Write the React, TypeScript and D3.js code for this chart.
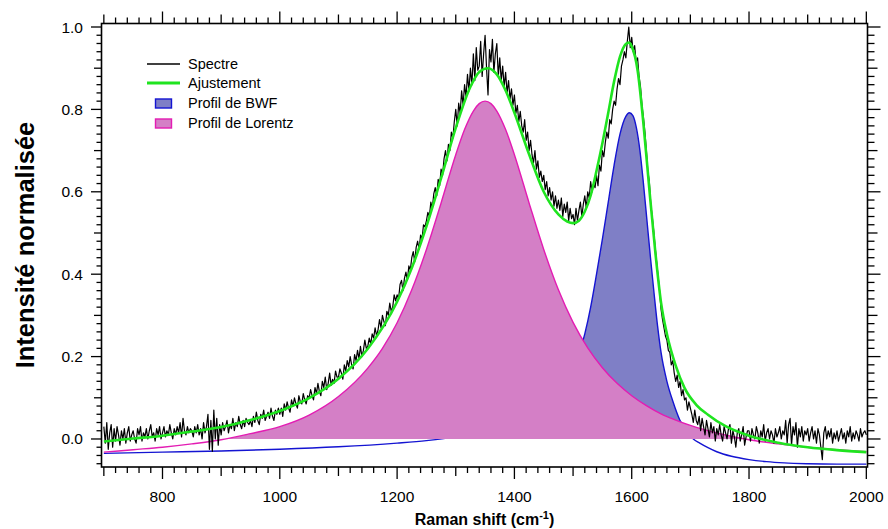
import React from "react";
import * as d3 from "d3";

const W = 888;
const H = 529;

// Raman spectrum (normalised intensity), sampled every 2.5 cm-1 from 700 to 2000
const spectrumStart = 700;
const spectrumStep = 2.5;
const spectrumValues: number[] = [
  0.03, -0.01, 0.04, -0.025, 0.015, 0.035, -0.02, 0.025, -0.005, 0.03, 0.01, -0.015, 0.02, 0.0, 0.025, -0.01, 0.015, 0.03, -0.005, 0.01,
  0.02, 0.0, -0.01, 0.025, 0.01, 0.03, -0.005, 0.015, 0.005, 0.025, 0.0, 0.02, 0.035, 0.005, 0.015, -0.005, 0.025, 0.01, 0.03, 0.0,
  0.015, 0.03, 0.005, 0.02, 0.01, 0.035, 0.015, 0.0, 0.025, 0.01, 0.03, 0.015, 0.04, 0.005, 0.05, 0.02, 0.01, 0.03, 0.015, 0.025,
  0.02, 0.005, 0.03, 0.015, 0.035, 0.01, 0.025, 0.0, 0.04, 0.015, 0.03, 0.06, -0.025, 0.045, -0.03, 0.07, 0.0, 0.05, -0.015, 0.035,
  0.01, 0.04, 0.02, 0.03, 0.045, 0.015, 0.035, 0.025, 0.05, 0.02, 0.04, 0.03, 0.055, 0.035, 0.025, 0.045, 0.03, 0.05, 0.04, 0.035,
  0.045, 0.03, 0.055, 0.04, 0.065, 0.045, 0.035, 0.06, 0.05, 0.07, 0.045, 0.055, 0.065, 0.05, 0.075, 0.055, 0.045, 0.07, 0.06, 0.075,
  0.06, 0.075, 0.055, 0.085, 0.07, 0.09, 0.075, 0.065, 0.095, 0.08, 0.1, 0.085, 0.075, 0.105, 0.09, 0.085, 0.11, 0.095, 0.085, 0.105,
  0.1, 0.12, 0.105, 0.095, 0.125, 0.11, 0.135, 0.115, 0.105, 0.14, 0.125, 0.15, 0.12, 0.135, 0.16, 0.13, 0.145, 0.135, 0.165, 0.15,
  0.15, 0.17, 0.16, 0.145, 0.18, 0.165, 0.19, 0.175, 0.2, 0.18, 0.17, 0.205, 0.19, 0.215, 0.195, 0.225, 0.2, 0.215, 0.24, 0.22,
  0.225, 0.245, 0.23, 0.255, 0.245, 0.27, 0.25, 0.265, 0.29, 0.27, 0.3, 0.285, 0.275, 0.31, 0.3, 0.33, 0.31, 0.32, 0.35, 0.335,
  0.35, 0.34, 0.375, 0.385, 0.36, 0.39, 0.405, 0.385, 0.42, 0.41, 0.44, 0.455, 0.43, 0.465, 0.48, 0.46, 0.495, 0.485, 0.52, 0.515,
  0.53, 0.55, 0.54, 0.575, 0.56, 0.595, 0.61, 0.59, 0.63, 0.615, 0.655, 0.64, 0.68, 0.7, 0.675, 0.715, 0.7, 0.745, 0.73, 0.77,
  0.8, 0.76, 0.815, 0.79, 0.845, 0.81, 0.86, 0.83, 0.885, 0.845, 0.9, 0.86, 0.935, 0.87, 0.95, 0.895, 0.905, 0.965, 0.88, 0.935,
  0.98, 0.9, 0.835, 0.945, 0.915, 0.97, 0.89, 0.935, 0.96, 0.88, 0.925, 0.87, 0.905, 0.855, 0.89, 0.84, 0.87, 0.825, 0.85, 0.81,
  0.835, 0.79, 0.81, 0.77, 0.795, 0.76, 0.745, 0.775, 0.725, 0.745, 0.7, 0.725, 0.69, 0.67, 0.7, 0.655, 0.675, 0.635, 0.65, 0.625,
  0.64, 0.605, 0.625, 0.59, 0.61, 0.58, 0.6, 0.565, 0.59, 0.56, 0.58, 0.555, 0.585, 0.54, 0.57, 0.55, 0.575, 0.53, 0.56, 0.535,
  0.545, 0.52, 0.56, 0.53, 0.555, 0.575, 0.54, 0.57, 0.59, 0.56, 0.6, 0.585, 0.625, 0.6, 0.62, 0.61, 0.64, 0.615, 0.665, 0.65,
  0.7, 0.685, 0.72, 0.745, 0.73, 0.775, 0.765, 0.8, 0.82, 0.81, 0.85, 0.875, 0.86, 0.905, 0.92, 0.94, 0.925, 0.965, 1.0, 0.95,
  0.975, 0.94, 0.955, 0.915, 0.925, 0.88, 0.855, 0.81, 0.78, 0.745, 0.7, 0.65, 0.625, 0.57, 0.54, 0.505, 0.465, 0.43, 0.395, 0.36,
  0.315, 0.29, 0.27, 0.25, 0.24, 0.215, 0.21, 0.18, 0.19, 0.16, 0.14, 0.155, 0.125, 0.14, 0.105, 0.12, 0.095, 0.1, 0.07, 0.09,
  0.075, 0.06, 0.04, 0.07, 0.045, 0.035, 0.055, 0.02, 0.05, 0.03, 0.01, 0.045, 0.025, 0.005, 0.04, 0.015, 0.03, -0.005, 0.025, 0.01,
  0.035, 0.01, -0.005, 0.03, 0.015, 0.0, 0.025, 0.035, -0.01, 0.02, 0.005, -0.02, 0.015, 0.025, -0.005, 0.01, 0.03, -0.015, 0.005, 0.02,
  0.02, -0.005, 0.025, 0.01, 0.0, 0.03, 0.015, -0.01, 0.02, 0.005, 0.035, -0.005, 0.015, 0.025, 0.0, 0.02, 0.01, -0.01, 0.025, 0.005,
  0.015, 0.03, 0.0, 0.02, 0.01, 0.045, -0.01, 0.035, 0.05, -0.015, 0.03, 0.01, 0.04, -0.02, 0.025, 0.005, 0.03, -0.005, 0.02, 0.01,
  0.025, -0.005, 0.015, 0.03, 0.0, 0.02, -0.01, 0.025, 0.01, -0.02, -0.05, 0.015, 0.03, 0.0, 0.02, 0.005, 0.025, -0.01, 0.015, 0.0,
  0.02, -0.005, 0.01, 0.025, 0.0, 0.015, -0.01, 0.02, 0.005, 0.03, -0.005, 0.015, 0.0, 0.02, 0.01, -0.005, 0.025, 0.005, 0.015, 0.02,
  0.01,
];

// Lorentz profile [wavenumber, intensity]
const lorentzProfile: [number, number][] = [
  [700, -0.032], [750, -0.026], [800, -0.02], [850, -0.012], [900, -0.002],
  [950, 0.013], [1000, 0.03], [1050, 0.058], [1100, 0.103], [1150, 0.172],
  [1175, 0.22], [1200, 0.282], [1225, 0.362], [1250, 0.46], [1275, 0.573],
  [1300, 0.69], [1315, 0.751], [1330, 0.796], [1340, 0.814], [1350, 0.82],
  [1360, 0.814], [1370, 0.796], [1385, 0.751], [1400, 0.69], [1425, 0.573],
  [1450, 0.46], [1475, 0.362], [1500, 0.283], [1525, 0.221], [1550, 0.173],
  [1575, 0.135], [1600, 0.105], [1625, 0.081], [1650, 0.061], [1675, 0.046],
  [1700, 0.033], [1750, 0.013], [1800, -0.002], [1850, -0.012], [1900, -0.02],
  [1950, -0.026], [2000, -0.031],
];

// BWF profile [wavenumber, intensity]
const bwfProfile: [number, number][] = [
  [700, -0.035], [800, -0.032], [900, -0.029], [1000, -0.025], [1100, -0.019],
  [1200, -0.01], [1250, -0.004], [1300, 0.005], [1350, 0.02], [1400, 0.042],
  [1425, 0.058], [1450, 0.08], [1475, 0.115], [1500, 0.17], [1510, 0.205],
  [1520, 0.255], [1530, 0.32], [1540, 0.4], [1550, 0.485], [1560, 0.575],
  [1570, 0.665], [1580, 0.74], [1590, 0.783], [1596, 0.792], [1602, 0.785],
  [1608, 0.755], [1614, 0.7], [1620, 0.62], [1626, 0.53], [1632, 0.44],
  [1638, 0.355], [1644, 0.275], [1650, 0.21], [1660, 0.14], [1670, 0.092],
  [1682, 0.046], [1695, 0.016], [1705, 0.0], [1716, -0.01], [1730, -0.021],
  [1745, -0.031], [1770, -0.042], [1800, -0.05], [1830, -0.055], [1860, -0.058],
  [1900, -0.06], [1950, -0.061], [2000, -0.061],
];

// Fit (Ajustement) [wavenumber, intensity]
const fitCurve: [number, number][] = [
  [700, -0.006], [750, 0.001], [800, 0.008], [850, 0.018], [900, 0.029],
  [950, 0.046], [1000, 0.068], [1050, 0.099], [1100, 0.146], [1150, 0.219],
  [1200, 0.333], [1225, 0.415], [1250, 0.516], [1275, 0.633], [1300, 0.755],
  [1325, 0.855], [1340, 0.891], [1355, 0.9], [1370, 0.885], [1385, 0.846],
  [1400, 0.792], [1425, 0.691], [1450, 0.6], [1475, 0.545], [1490, 0.528],
  [1500, 0.524], [1510, 0.53], [1520, 0.552], [1530, 0.591], [1540, 0.651],
  [1550, 0.718], [1560, 0.792], [1570, 0.868], [1580, 0.928], [1590, 0.959],
  [1595, 0.962], [1600, 0.953], [1610, 0.895], [1620, 0.765], [1630, 0.607],
  [1640, 0.457], [1650, 0.331], [1660, 0.255], [1675, 0.178], [1690, 0.124],
  [1710, 0.083], [1730, 0.059], [1760, 0.031], [1800, 0.008], [1850, -0.009],
  [1900, -0.02], [1950, -0.027], [2000, -0.032],
];

const xTickLabels = [800, 1000, 1200, 1400, 1600, 1800, 2000];
const yTickLabels = [0.0, 0.2, 0.4, 0.6, 0.8, 1.0];
const legendLabels = ["Spectre", "Ajustement", "Profil de BWF", "Profil de Lorentz"];

const FONT = "'Liberation Sans', Arial, Helvetica, sans-serif";
const C_SPEC = "#000000";
const C_FIT = "#1fe41f";
const C_BWF_LINE = "#1414d2";
const C_BWF_FILL = "#7f7fc6";
const C_LOR_LINE = "#e31cb3";
const C_LOR_FILL = "#d47fc6";

export default function App() {
  const left = 101.5, right = 867.5, top = 23.5, bottom = 467;
  const x = d3.scaleLinear().domain([696, 2002]).range([left, right]);
  const y = d3.scaleLinear().domain([-0.068, 1.0085]).range([bottom, top]);

  const smooth = d3
    .line<[number, number]>()
    .x((d) => x(d[0]))
    .y((d) => y(d[1]))
    .curve(d3.curveMonotoneX);
  const smoothArea = d3
    .area<[number, number]>()
    .x((d) => x(d[0]))
    .y0(() => y(0))
    .y1((d) => y(d[1]))
    .curve(d3.curveMonotoneX);

  const spectrum: [number, number][] = spectrumValues.map((v, i) => [
    spectrumStart + i * spectrumStep,
    v,
  ]);
  const rawLine = d3
    .line<[number, number]>()
    .x((d) => x(d[0]))
    .y((d) => y(d[1]));

  const xMinor = d3.range(700, 2001, 20);
  const yMinor = d3.range(-60, 1001, 20);

  const xLen = (v: number) => (v % 200 === 0 ? 12 : v % 100 === 0 ? 9 : 6);
  const yLenL = (k: number) => (k % 200 === 0 ? 10.5 : k % 100 === 0 ? 7.5 : 5);
  const yLenR = (k: number) => (k % 200 === 0 ? 13 : k % 100 === 0 ? 10 : 7);

  return (
    <svg
      width={W}
      height={H}
      viewBox={`0 0 ${W} ${H}`}
      style={{ position: "absolute", left: 0, top: 0, display: "block", background: "#fff" }}
    >
      <defs>
        <clipPath id="posClip">
          <rect x={left} y={top} width={right - left} height={y(0) - top} />
        </clipPath>
        <clipPath id="plotClip">
          <rect x={left} y={top} width={right - left} height={bottom - top} />
        </clipPath>
      </defs>
      <rect x={0} y={0} width={W} height={H} fill="#fff" />

      <g clipPath="url(#plotClip)">
        <path d={smoothArea(bwfProfile) || ""} fill={C_BWF_FILL} clipPath="url(#posClip)" />
        <path d={smooth(bwfProfile) || ""} fill="none" stroke={C_BWF_LINE} strokeWidth={1.4} />
        <path d={smoothArea(lorentzProfile) || ""} fill={C_LOR_FILL} clipPath="url(#posClip)" />
        <path d={smooth(lorentzProfile) || ""} fill="none" stroke={C_LOR_LINE} strokeWidth={1.4} />
        <path
          d={rawLine(spectrum) || ""}
          fill="none"
          stroke={C_SPEC}
          strokeWidth={1.2}
          strokeLinejoin="round"
        />
        <path d={smooth(fitCurve) || ""} fill="none" stroke={C_FIT} strokeWidth={2.6} />
      </g>

      {/* frame */}
      <rect x={left} y={top} width={right - left} height={bottom - top} fill="none" stroke="#000" strokeWidth={1.6} />

      {/* x ticks bottom & top */}
      {xMinor.map((v) => (
        <g key={`xt${v}`}>
          <line x1={x(v)} x2={x(v)} y1={bottom} y2={bottom + xLen(v)} stroke="#000" strokeWidth={1.3} />
          <line x1={x(v)} x2={x(v)} y1={top} y2={top - xLen(v)} stroke="#000" strokeWidth={1.3} />
        </g>
      ))}
      {/* y ticks left & right */}
      {yMinor.map((k) => (
        <g key={`yt${k}`}>
          <line x1={left} x2={left - yLenL(k)} y1={y(k / 1000)} y2={y(k / 1000)} stroke="#000" strokeWidth={1.3} />
          <line x1={right} x2={right + yLenR(k)} y1={y(k / 1000)} y2={y(k / 1000)} stroke="#000" strokeWidth={1.3} />
        </g>
      ))}

      {xTickLabels.map((v) => (
        <text
          key={`xl${v}`}
          x={x(v)}
          y={502}
          textAnchor="middle"
          fontFamily={FONT}
          fontSize={15.5}
          fill="#000"
        >
          {v}
        </text>
      ))}
      {yTickLabels.map((v) => (
        <text
          key={`yl${v}`}
          x={83}
          y={y(v) + 5.5}
          textAnchor="end"
          fontFamily={FONT}
          fontSize={15.5}
          fill="#000"
        >
          {d3.format(".1f")(v)}
        </text>
      ))}

      <text x={(left + right) / 2} y={525} textAnchor="middle" fontFamily={FONT} fontSize={16} fontWeight="bold">
        Raman shift (cm
        <tspan fontSize={11} dy={-6}>-1</tspan>
        <tspan dy={6}>)</tspan>
      </text>

      <text
        transform={`translate(34, 245) rotate(-90)`}
        textAnchor="middle"
        fontFamily={FONT}
        fontSize={25.5}
        fontWeight="bold"
      >
        Intensité normalisée
      </text>

      {/* legend */}
      <g fontFamily={FONT} fontSize={14.5}>
        <line x1={147} x2={180} y1={64} y2={64} stroke={C_SPEC} strokeWidth={1.5} />
        <text x={188} y={69}>{legendLabels[0]}</text>
        <line x1={147} x2={180} y1={83} y2={83} stroke={C_FIT} strokeWidth={2.8} />
        <text x={188} y={88}>{legendLabels[1]}</text>
        <rect x={155.5} y={99} width={16} height={9} fill={C_BWF_FILL} stroke={C_BWF_LINE} strokeWidth={1.4} />
        <text x={188} y={108}>{legendLabels[2]}</text>
        <rect x={155.5} y={119} width={16} height={9} fill={C_LOR_FILL} stroke={C_LOR_LINE} strokeWidth={1.4} />
        <text x={188} y={128}>{legendLabels[3]}</text>
      </g>
    </svg>
  );
}
